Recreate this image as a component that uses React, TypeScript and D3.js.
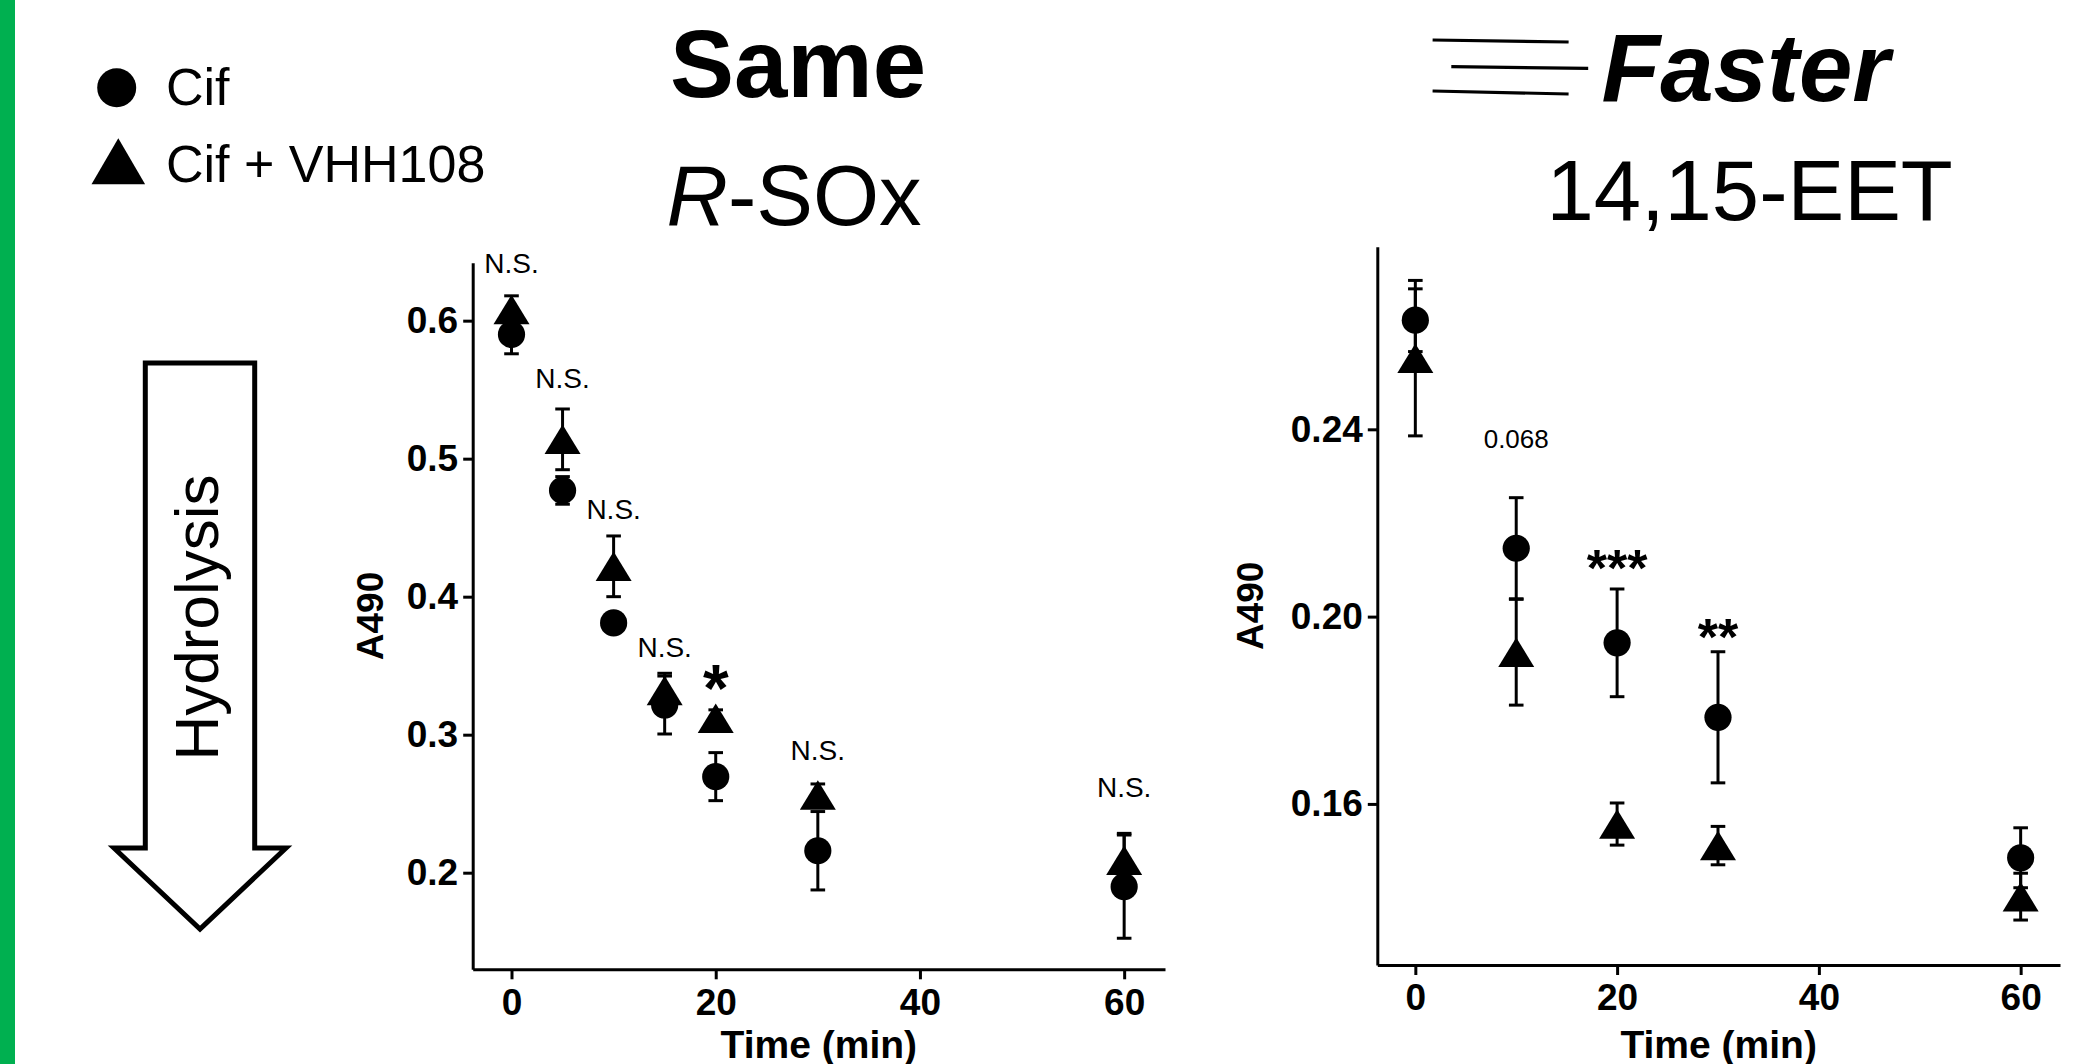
import { useEffect, useRef } from "react";
import * as d3 from "d3";

// R-SOx panel (left)
const rsoxTimes = [0, 5, 10, 15, 20, 30, 60];
const rsoxCifMean = [0.590, 0.477, 0.381, 0.3215, 0.2696, 0.2159, 0.1899];
const rsoxCifSem = [0.014, 0.010, 0.005, 0.021, 0.0174, 0.0284, 0.0374];
const rsoxVhhMean = [0.608, 0.514, 0.422, 0.332, 0.312, 0.2563, 0.209];
const rsoxVhhSem = [0.010, 0.022, 0.022, 0.0125, 0.006, 0.008, 0.0195];
const rsoxYTicks = [0.2, 0.3, 0.4, 0.5, 0.6];
const rsoxNotes = [
  { t: 0, label: "N.S.", y: 0.6343 },
  { t: 5, label: "N.S.", y: 0.5514 },
  { t: 10, label: "N.S.", y: 0.4563 },
  { t: 15, label: "N.S.", y: 0.3565 },
  { t: 20, label: "*", y: 0.3175 },
  { t: 30, label: "N.S.", y: 0.2817 },
  { t: 60, label: "N.S.", y: 0.2551 },
];

// 14,15-EET panel (right)
const eetTimes = [0, 10, 20, 30, 60];
const eetCifMean = [0.2633, 0.2146, 0.1944, 0.1785, 0.1485];
const eetCifSem = [0.0067, 0.0108, 0.0115, 0.014, 0.0064];
const eetVhhMean = [0.2552, 0.1924, 0.1557, 0.1511, 0.1402];
const eetVhhSem = [0.0166, 0.0113, 0.0045, 0.0041, 0.005];
const eetYTicks = [0.16, 0.20, 0.24];
const eetNotes = [
  { t: 10, label: "0.068", y: 0.2361 },
  { t: 20, label: "***", y: 0.2066 },
  { t: 30, label: "**", y: 0.1917 },
];

const xTicks = [0, 20, 40, 60];
const seriesNames = ["Cif", "Cif + VHH108"];

const FONT = "'Liberation Sans', Arial, sans-serif";

const App = () => {
  const svgRef = useRef(null);

  useEffect(() => {
    const svg = d3.select(svgRef.current);
    svg.selectAll("*").remove();

    // green edge bar
    svg.append("rect").attr("x", 0).attr("y", 0).attr("width", 15).attr("height", 1064).attr("fill", "#00b050");

    // legend
    svg.append("circle").attr("cx", 116.7).attr("cy", 87.8).attr("r", 19.5).attr("fill", "#000");
    svg.append("path").attr("d", "M118.3,138.3 L145.1,184.3 L91.5,184.3 Z").attr("fill", "#000");
    svg.append("text").attr("x", 166).attr("y", 105).attr("font-family", FONT).attr("font-size", 52).text(seriesNames[0]);
    svg.append("text").attr("x", 166).attr("y", 181.7).attr("font-family", FONT).attr("font-size", 52).text(seriesNames[1]);

    // hydrolysis arrow
    svg.append("path")
      .attr("d", "M145.3,363 L254.7,363 L254.7,848 L286,848 L200,929 L114,848 L145.3,848 Z")
      .attr("fill", "#fff").attr("stroke", "#000").attr("stroke-width", 5).attr("stroke-linejoin", "miter");
    svg.append("text")
      .attr("transform", "translate(218,617.5) rotate(-90)")
      .attr("text-anchor", "middle").attr("font-family", FONT).attr("font-size", 62)
      .text("Hydrolysis");

    // titles
    svg.append("text").attr("x", 798).attr("y", 97).attr("text-anchor", "middle")
      .attr("font-family", FONT).attr("font-size", 96).attr("font-weight", "bold").text("Same");
    const rs = svg.append("text").attr("x", 794).attr("y", 225).attr("text-anchor", "middle")
      .attr("font-family", FONT).attr("font-size", 85);
    rs.append("tspan").attr("font-style", "italic").text("R");
    rs.append("tspan").text("-SOx");

    svg.append("text").attr("x", 1745.6).attr("y", 101).attr("text-anchor", "middle")
      .attr("font-family", FONT).attr("font-size", 96).attr("font-weight", "bold").attr("font-style", "italic").text("Faster");
    svg.append("text").attr("x", 1749.6).attr("y", 220).attr("text-anchor", "middle")
      .attr("font-family", FONT).attr("font-size", 85).text("14,15-EET");
    // speed lines
    [[1432.6, 40, 1568.6, 42], [1451.3, 66.7, 1588.2, 68.3], [1432.6, 91, 1568.6, 94]].forEach(([x1, y1, x2, y2]) => {
      svg.append("line").attr("x1", x1).attr("y1", y1).attr("x2", x2).attr("y2", y2)
        .attr("stroke", "#000").attr("stroke-width", 3.2);
    });

    const panels = [
      {
        times: rsoxTimes, cif: rsoxCifMean, cifSem: rsoxCifSem, vhh: rsoxVhhMean, vhhSem: rsoxVhhSem,
        yTicks: rsoxYTicks, fmt: d3.format(".1f"), notes: rsoxNotes, starSize: 66,
        xDomain: [-3.8, 64], xRange: [472.7, 1165], yDomain: [0.13, 0.642], yRange: [969.3, 262.7],
        yTitleX: 383,
      },
      {
        times: eetTimes, cif: eetCifMean, cifSem: eetCifSem, vhh: eetVhhMean, vhhSem: eetVhhSem,
        yTicks: eetYTicks, fmt: d3.format(".2f"), notes: eetNotes, starSize: 52,
        xDomain: [-3.77, 63.9], xRange: [1377.3, 2060], yDomain: [0.1256, 0.279], yRange: [965, 246.7],
        yTitleX: 1263,
      },
    ];

    panels.forEach((p) => {
      const x = d3.scaleLinear().domain(p.xDomain).range(p.xRange);
      const y = d3.scaleLinear().domain(p.yDomain).range(p.yRange);
      const g = svg.append("g");

      const yAxis = g.append("g").attr("transform", `translate(${p.xRange[0]},0)`)
        .call(d3.axisLeft(y).tickValues(p.yTicks).tickFormat(p.fmt).tickSize(9.5).tickPadding(5).tickSizeOuter(0));
      const xAxis = g.append("g").attr("transform", `translate(0,${p.yRange[0]})`)
        .call(d3.axisBottom(x).tickValues(xTicks).tickSize(10).tickPadding(9).tickSizeOuter(0));
      [yAxis, xAxis].forEach((a) => {
        a.attr("font-family", FONT).attr("font-size", 37).attr("font-weight", "bold");
        a.select(".domain").attr("stroke", "#000").attr("stroke-width", 3);
        a.selectAll(".tick line").attr("stroke", "#000").attr("stroke-width", 3);
        a.selectAll(".tick text").attr("fill", "#000");
      });

      // axis titles
      g.append("text").attr("x", (p.xRange[0] + p.xRange[1]) / 2).attr("y", 1058)
        .attr("text-anchor", "middle").attr("font-family", FONT).attr("font-size", 39).attr("font-weight", "bold")
        .text("Time (min)");
      g.append("text")
        .attr("transform", `translate(${p.yTitleX},${(p.yRange[0] + p.yRange[1]) / 2}) rotate(-90)`)
        .attr("text-anchor", "middle").attr("font-family", FONT).attr("font-size", 37).attr("font-weight", "bold")
        .text("A490");

      const groups = [
        { mean: p.cif, sem: p.cifSem, shape: "circle" },
        { mean: p.vhh, sem: p.vhhSem, shape: "triangle" },
      ];

      // error bars
      groups.forEach((s) => {
        p.times.forEach((t, i) => {
          const cx = x(t);
          const lo = y(s.mean[i] - s.sem[i]);
          const hi = y(s.mean[i] + s.sem[i]);
          g.append("line").attr("x1", cx).attr("x2", cx).attr("y1", lo).attr("y2", hi)
            .attr("stroke", "#000").attr("stroke-width", 3);
          [lo, hi].forEach((yy) => {
            g.append("line").attr("x1", cx - 7.3).attr("x2", cx + 7.3).attr("y1", yy).attr("y2", yy)
              .attr("stroke", "#000").attr("stroke-width", 3);
          });
        });
      });

      // symbols
      groups.forEach((s) => {
        p.times.forEach((t, i) => {
          const cx = x(t);
          const cy = y(s.mean[i]);
          if (s.shape === "circle") {
            g.append("circle").attr("cx", cx).attr("cy", cy).attr("r", 13.6).attr("fill", "#000");
          } else {
            const w = 36, h = 29.5;
            g.append("path")
              .attr("d", `M${cx},${cy - h / 2} L${cx + w / 2},${cy + h / 2} L${cx - w / 2},${cy + h / 2} Z`)
              .attr("fill", "#000");
          }
        });
      });

      // significance labels
      p.notes.forEach((n) => {
        const isStar = /^\*+$/.test(n.label);
        const size = isStar ? p.starSize : n.label === "N.S." ? 28 : 26;
        g.append("text").attr("x", x(n.t)).attr("y", y(n.y)).attr("text-anchor", "middle")
          .attr("font-family", FONT).attr("font-size", size).attr("fill", "#000")
          .attr("font-weight", isStar ? "bold" : "normal")
          .text(n.label);
      });
    });
  }, []);

  return (
    <svg ref={svgRef} width={2079} height={1064}
      style={{ position: "absolute", left: 0, top: 0, background: "#fff" }} />
  );
};

export default App;
